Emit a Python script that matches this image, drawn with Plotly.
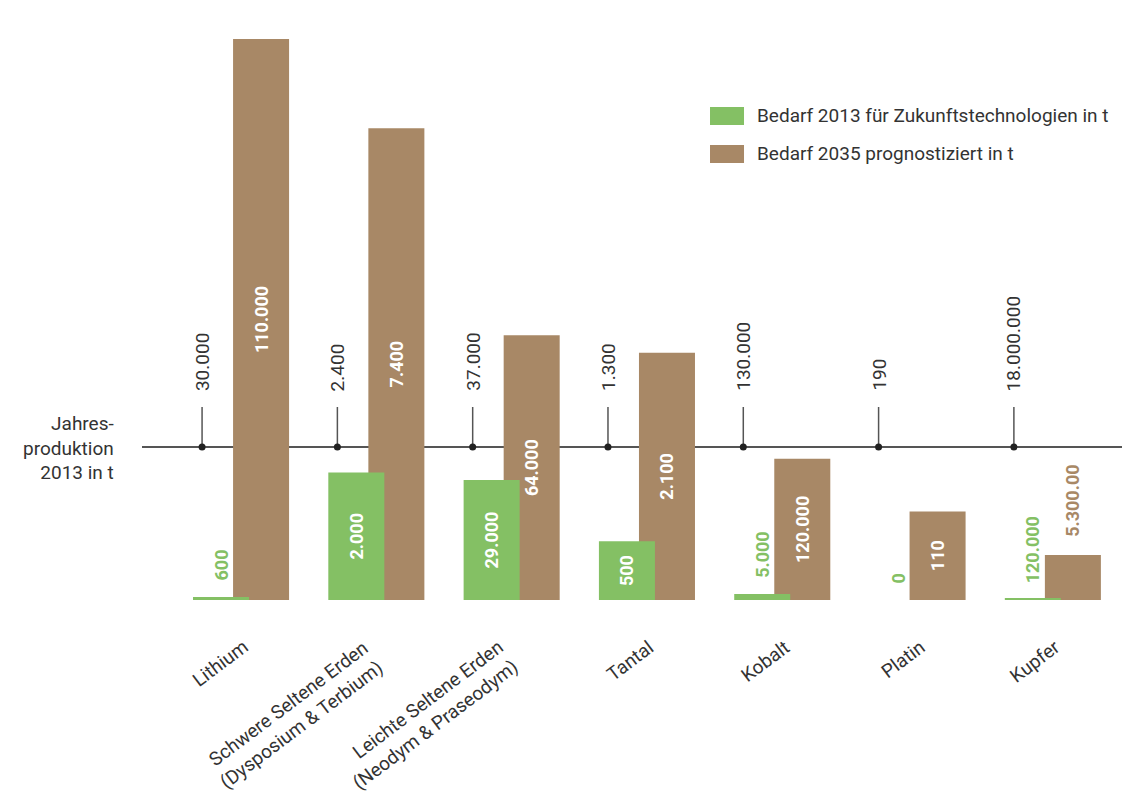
import plotly.graph_objects as go

# Raw materials and their demand relative to 2013 annual production
categories = [
    "Lithium",
    "Schwere Seltene Erden<br>(Dysposium & Terbium)",
    "Leichte Seltene Erden<br>(Neodym & Praseodym)",
    "Tantal",
    "Kobalt",
    "Platin",
    "Kupfer",
]
production_2013 = [30000, 2400, 37000, 1300, 130000, 190, 18000000]
demand_2013 = [600, 2000, 29000, 500, 5000, 0, 120000]
demand_2035 = [110000, 7400, 64000, 2100, 120000, 110, 5300000]
labels_2013 = ["600", "2.000", "29.000", "500", "5.000", "0", "120.000"]
labels_2035 = ["110.000", "7.400", "64.000", "2.100", "120.000", "110", "5.300.00"]
placement_2013 = ["outside", "inside", "inside", "inside", "outside", "outside", "outside"]
placement_2035 = ["inside", "inside", "inside", "inside", "inside", "inside", "outside"]

GREEN = "#84c064"
BROWN = "#a88866"
TEXT = "#333333"
LINE = "#555555"
FONT = "Roboto"

# Geometry (axis units: 1 = distance between two raw materials)
BAR_W = 0.414
OFF_13 = -0.355
OFF_35 = -0.059
TICK_X = -0.288

x = list(range(len(categories)))
ratio_2013 = [d / p for d, p in zip(demand_2013, production_2013)]
ratio_2035 = [d / p for d, p in zip(demand_2035, production_2013)]


def de(n):
    return f"{n:,}".replace(",", ".")


fig = go.Figure()

fig.add_bar(
    x=x, y=ratio_2035, width=BAR_W, offset=OFF_35,
    marker=dict(color=BROWN, line=dict(width=0)),
    text=[t if p == "inside" else "" for t, p in zip(labels_2035, placement_2035)],
    textposition="inside", insidetextanchor="middle", textangle=-90,
    insidetextfont=dict(family=FONT, size=18, color="white", weight="bold"),
    constraintext="none", name="Bedarf 2035 prognostiziert in t",
    showlegend=False, hoverinfo="skip",
)
fig.add_bar(
    x=x, y=ratio_2013, width=BAR_W, offset=OFF_13,
    marker=dict(color=GREEN, line=dict(width=0)),
    text=[t if p == "inside" else "" for t, p in zip(labels_2013, placement_2013)],
    textposition="inside", insidetextanchor="middle", textangle=-90,
    insidetextfont=dict(family=FONT, size=18, color="white", weight="bold"),
    constraintext="none", name="Bedarf 2013 für Zukunftstechnologien in t",
    showlegend=False, hoverinfo="skip",
)

# Labels placed above bars that are too short to hold them
annotations = []
for xi, r, t, p in zip(x, ratio_2013, labels_2013, placement_2013):
    if p == "outside":
        annotations.append(dict(
            x=xi + OFF_13 + BAR_W / 2, y=r, xref="x", yref="y",
            text=f"<b>{t}</b>", textangle=-90, showarrow=False,
            xanchor="center", yanchor="bottom", yshift=14,
            font=dict(family=FONT, size=18, color=GREEN)))
for xi, r, t, p in zip(x, ratio_2035, labels_2035, placement_2035):
    if p == "outside":
        annotations.append(dict(
            x=xi + OFF_35 + BAR_W / 2, y=r, xref="x", yref="y",
            text=f"<b>{t}</b>", textangle=-90, showarrow=False,
            xanchor="center", yanchor="bottom", yshift=16,
            font=dict(family=FONT, size=18, color=BROWN)))

# Category names, slanted and right-aligned below the bars
for xi, name in zip(x, categories):
    annotations.append(dict(
        x=xi, y=0, xref="x", yref="y", text=name, textangle=-37,
        align="right", showarrow=False, xanchor="right", yanchor="top",
        xshift=14, yshift=-33,
        font=dict(family=FONT, size=19, color=TEXT)))

# Annual production level (100 %) with markers and production values
shapes = [dict(type="line", xref="paper", yref="y", x0=0, x1=1, y0=1, y1=1,
               line=dict(color=LINE, width=2), layer="below")]
for xi, p in zip(x, production_2013):
    shapes.append(dict(type="line", xref="x", yref="y", ysizemode="pixel", yanchor=1,
                       x0=xi + TICK_X, x1=xi + TICK_X, y0=0, y1=40,
                       line=dict(color=LINE, width=1.5), layer="below"))
    annotations.append(dict(
        x=xi + TICK_X, y=1, xref="x", yref="y", text=de(p), textangle=-90,
        showarrow=False, xanchor="center", yanchor="bottom", yshift=54,
        font=dict(family=FONT, size=19, color=TEXT)))

fig.add_scatter(
    x=[xi + TICK_X for xi in x], y=[1] * len(x), mode="markers",
    marker=dict(color="#222222", size=7), showlegend=False, hoverinfo="skip",
)

annotations.append(dict(
    x=-0.027, y=0.26, xref="paper", yref="paper",
    text="Jahres-<br>produktion<br>2013 in t", align="right",
    showarrow=False, xanchor="right", yanchor="middle",
    font=dict(family=FONT, size=19, color=TEXT)))

# Legend
legend_items = [
    (GREEN, "Bedarf 2013 für Zukunftstechnologien in t", 0.8274),
    (BROWN, "Bedarf 2035 prognostiziert in t", 0.7624),
]
for color, label, yc in legend_items:
    shapes.append(dict(type="rect", xref="paper", yref="paper",
                       x0=0.5796, x1=0.6143, y0=yc - 0.0154, y1=yc + 0.0154,
                       fillcolor=color, line=dict(width=0)))
    annotations.append(dict(
        x=0.6250, y=yc, xref="paper", yref="paper", text=label,
        showarrow=False, xanchor="left", yanchor="middle",
        font=dict(family=FONT, size=19, color=TEXT)))

fig.update_layout(
    width=1122, height=794,
    margin=dict(l=142, r=0, t=15, b=194),
    paper_bgcolor="white", plot_bgcolor="white",
    barmode="overlay",
    shapes=shapes, annotations=annotations,
    font=dict(family=FONT, color=TEXT),
    xaxis=dict(
        range=[-0.732, 6.511], showticklabels=False,
        showgrid=False, zeroline=False, showline=False, ticks="",
    ),
    yaxis=dict(range=[0, 3.8235], visible=False, showgrid=False, zeroline=False),
)

fig.write_html("out.html")
